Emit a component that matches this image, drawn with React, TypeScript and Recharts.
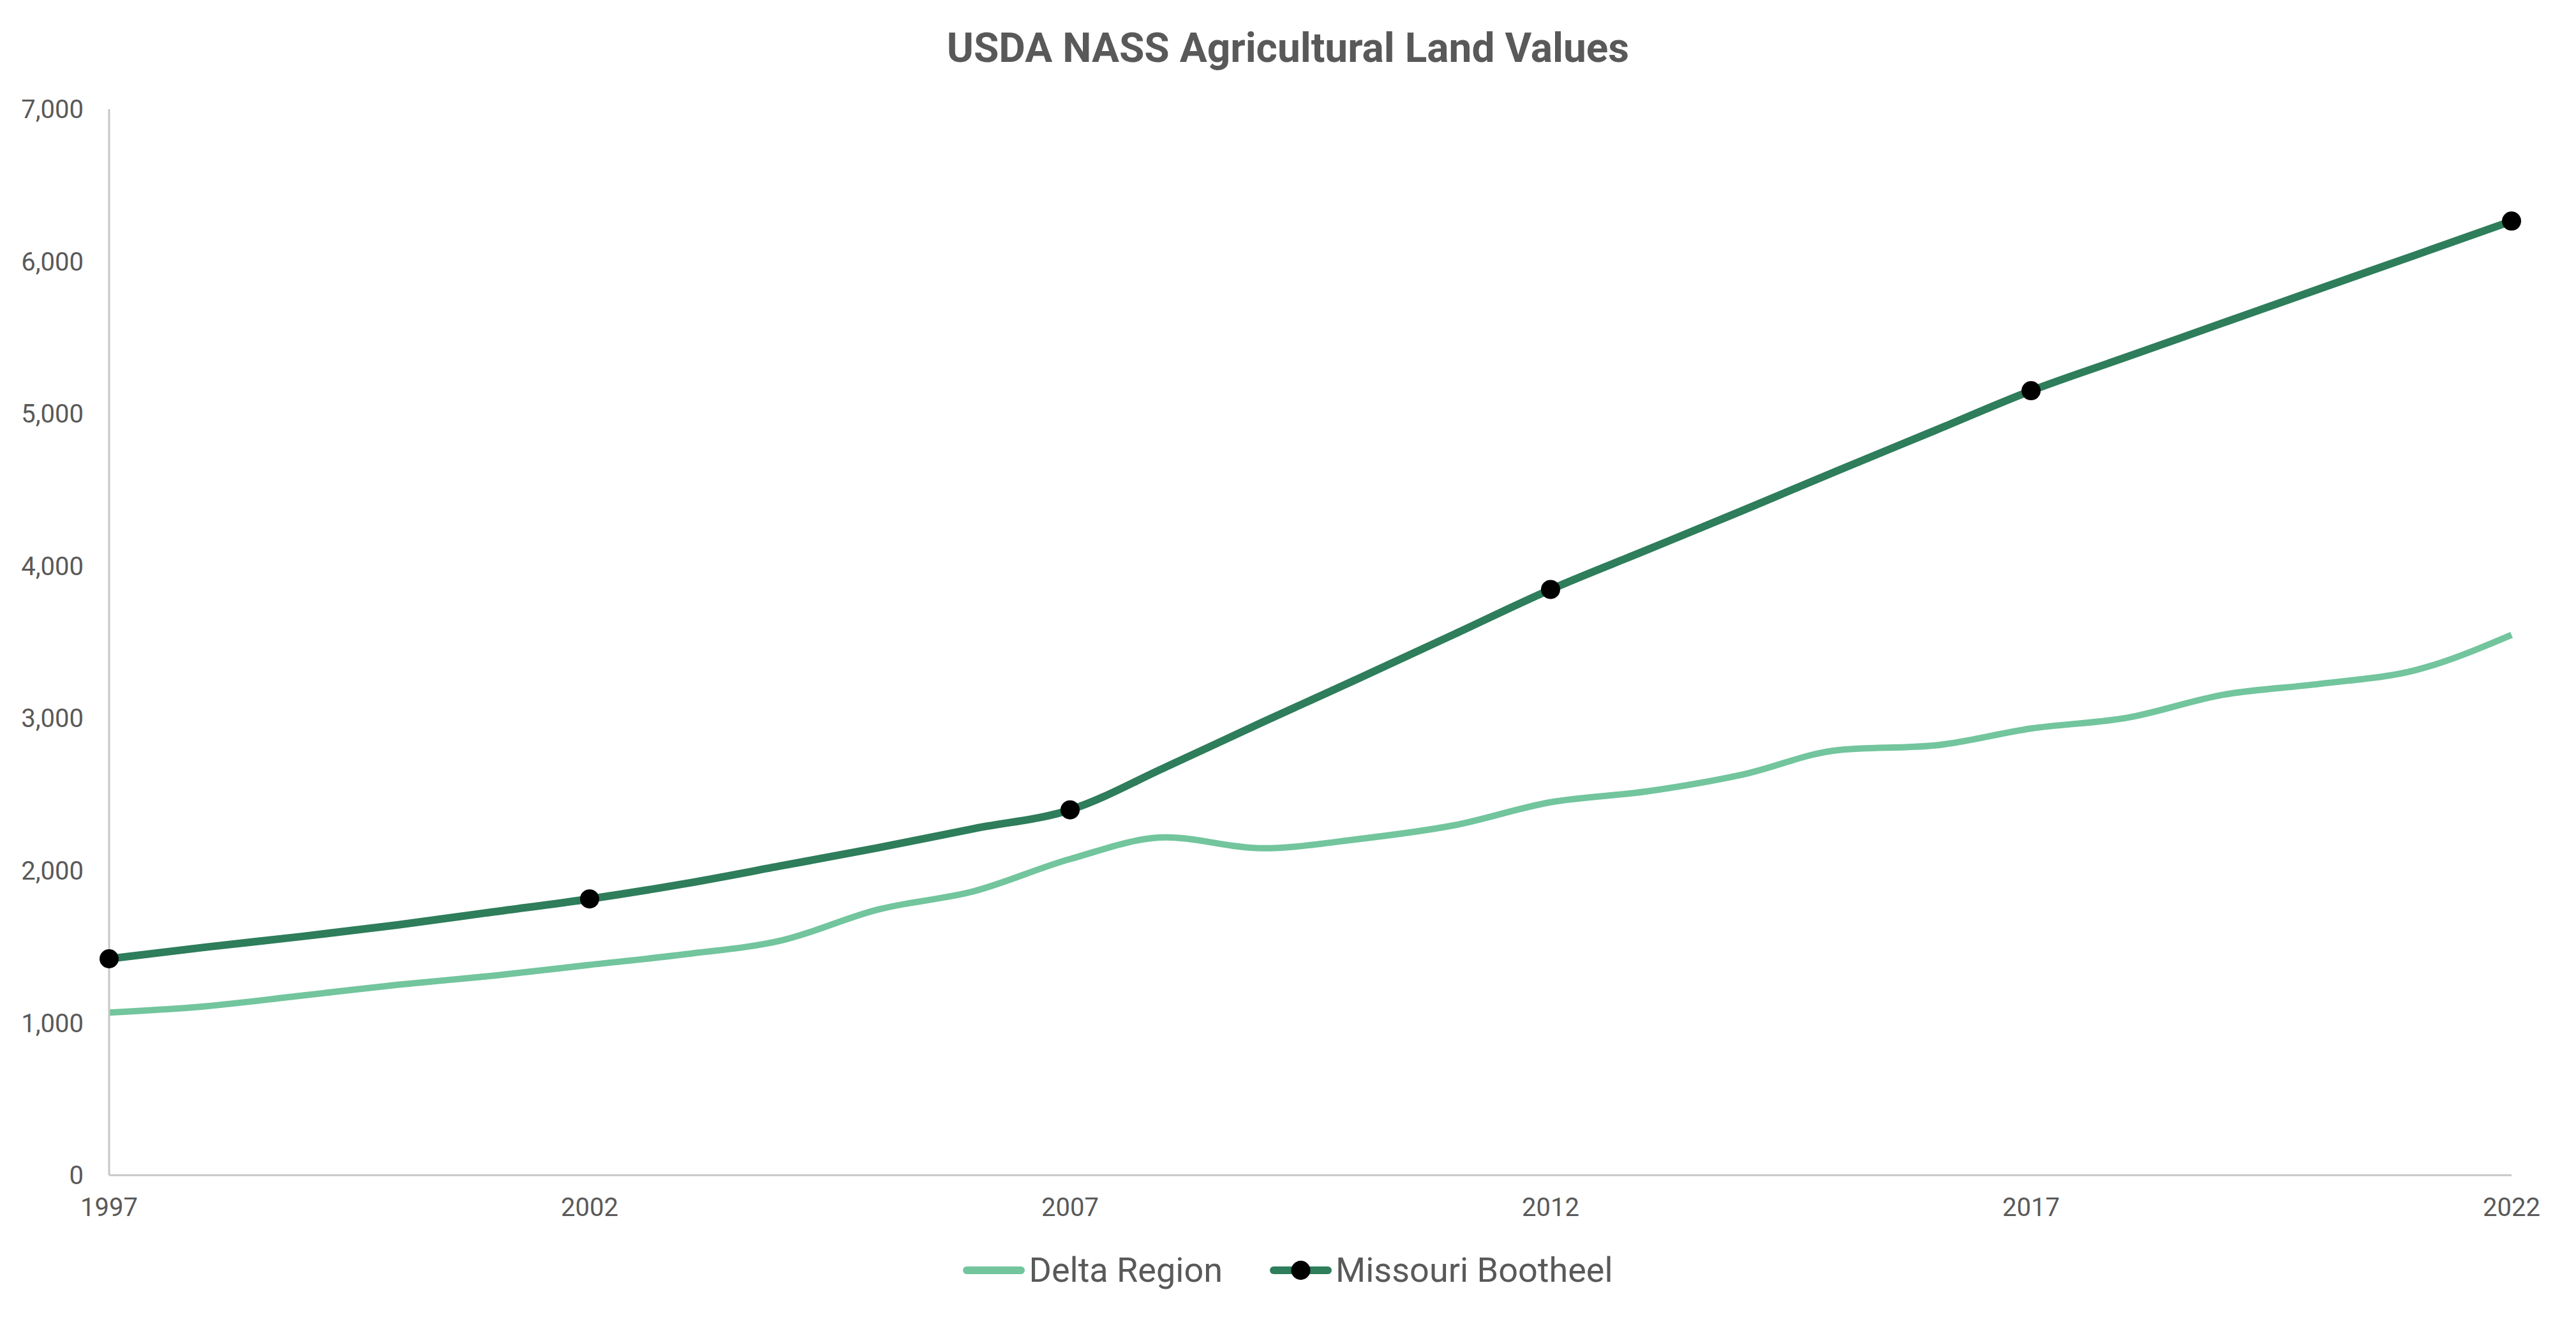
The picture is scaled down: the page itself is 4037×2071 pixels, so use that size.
import React from 'react';
import { LineChart, Line, XAxis, YAxis } from 'recharts';

const years = [
  1997, 1998, 1999, 2000, 2001, 2002, 2003, 2004, 2005, 2006, 2007, 2008, 2009,
  2010, 2011, 2012, 2013, 2014, 2015, 2016, 2017, 2018, 2019, 2020, 2021, 2022,
];

const deltaRegion = [
  1068, 1109, 1179, 1250, 1310, 1381, 1451, 1542, 1744, 1865, 2076, 2218, 2147,
  2207, 2298, 2449, 2520, 2631, 2792, 2822, 2933, 3004, 3155, 3226, 3316, 3548,
];

const missouriBootheel = [
  1421, 1497, 1567, 1643, 1729, 1814, 1915, 2032, 2150, 2276, 2399, 2681, 2974,
  3261, 3553, 3846, 4105, 4365, 4630, 4890, 5151, 5374, 5597, 5820, 6042, 6265,
];

const markerYears = [1997, 2002, 2007, 2012, 2017, 2022];
const yTicks = [0, 1000, 2000, 3000, 4000, 5000, 6000, 7000];

const data = years.map((year, i) => ({
  year,
  delta: deltaRegion[i],
  bootheel: missouriBootheel[i],
}));

const W = 4021;
const H = 2055;
const LIGHT = '#72C59D';
const DARK = '#2E7D5B';
const TEXT = '#595959';
const AXIS = '#C6C6C6';

// black markers only on the census years
const renderMarker = (props: any) => {
  const { cx, cy, payload, index } = props;
  if (!markerYears.includes(payload.year)) return <g key={`m-${index}`} />;
  return <circle key={`m-${index}`} cx={cx} cy={cy} r={15} fill="#000" stroke="none" />;
};

const App = () => {
  return (
    <div style={{ position: 'relative', width: W, height: H, background: '#fff', fontFamily: 'Roboto, sans-serif' }}>
      <div
        style={{
          position: 'absolute',
          top: 36,
          left: 0,
          width: W,
          textAlign: 'center',
          fontSize: 64,
          lineHeight: '64px',
          fontWeight: 700,
          color: TEXT,
          zIndex: 1,
        }}
      >
        USDA NASS Agricultural Land Values
      </div>
      <div style={{ position: 'absolute', top: 0, left: 0 }}>
        <LineChart width={W} height={H} data={data} margin={{ top: 163, right: 93, bottom: 122, left: 0 }}>
          <XAxis
            dataKey="year"
            interval={4}
            height={100}
            axisLine={{ stroke: AXIS, strokeWidth: 3 }}
            tickLine={false}
            tickSize={0}
            tickMargin={36}
            tick={{ fontSize: 40, fill: TEXT, fontFamily: 'Roboto' }}
          />
          <YAxis
            domain={[0, 7000]}
            ticks={yTicks}
            width={163}
            axisLine={{ stroke: AXIS, strokeWidth: 3 }}
            tickLine={false}
            tickSize={0}
            tickMargin={40}
            tick={{ fontSize: 40, fill: TEXT, fontFamily: 'Roboto' }}
            tickFormatter={(v: number) => v.toLocaleString('en-US')}
          />
          <Line
            type="monotone"
            dataKey="delta"
            name="Delta Region"
            stroke={LIGHT}
            strokeWidth={10}
            dot={false}
            activeDot={false}
            isAnimationActive={false}
          />
          <Line
            type="monotone"
            dataKey="bootheel"
            name="Missouri Bootheel"
            stroke={DARK}
            strokeWidth={12}
            dot={renderMarker}
            activeDot={false}
            isAnimationActive={false}
          />
        </LineChart>
      </div>
      <div
        style={{
          position: 'absolute',
          top: 1955,
          left: 0,
          width: W,
          display: 'flex',
          justifyContent: 'center',
          alignItems: 'center',
          fontSize: 54,
          lineHeight: '54px',
          color: TEXT,
        }}
      >
        <svg width={97} height={32}>
          <line x1={6} y1={16} x2={91} y2={16} stroke={LIGHT} strokeWidth={12} strokeLinecap="round" />
        </svg>
        <span style={{ marginLeft: 6, marginRight: 74 }}>Delta Region</span>
        <svg width={97} height={32}>
          <line x1={6} y1={16} x2={91} y2={16} stroke={DARK} strokeWidth={12} strokeLinecap="round" />
          <circle cx={48.5} cy={16} r={15} fill="#000" />
        </svg>
        <span style={{ marginLeft: 6 }}>Missouri Bootheel</span>
      </div>
    </div>
  );
};

export default App;
